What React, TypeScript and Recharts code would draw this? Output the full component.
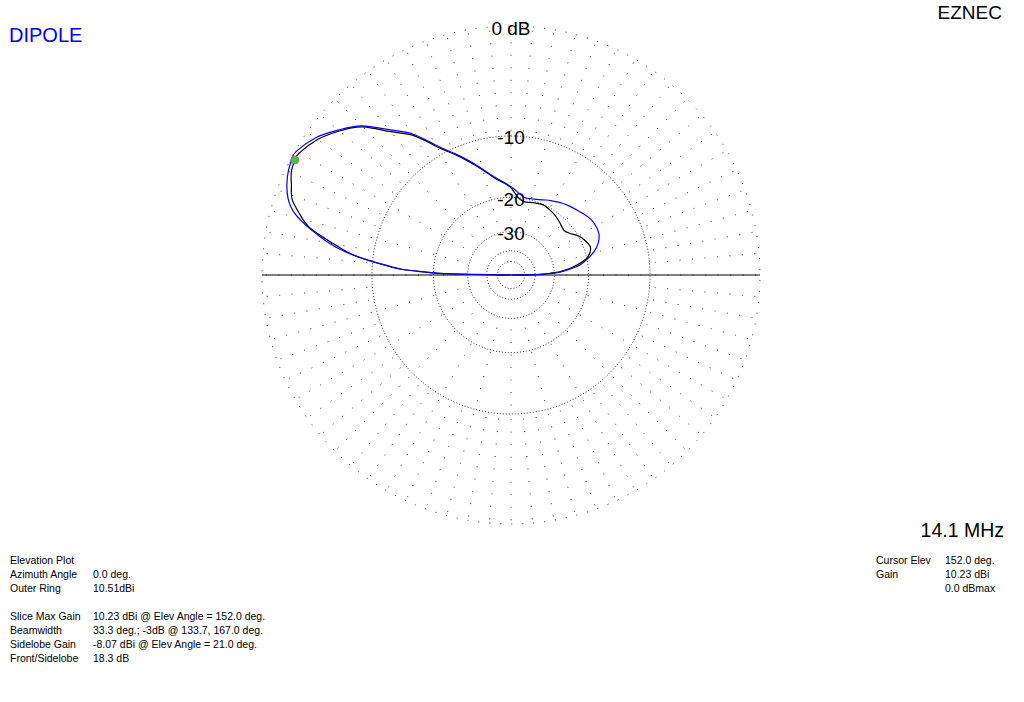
import { ScatterChart, Scatter, XAxis, YAxis, ReferenceLine } from 'recharts'

// outer ring of the plot, dBi
const OUTER_RING_DBI = 10.51

// elevation angle (deg) of each sample
const elevAngles = [
  0, 1, 2, 3, 5, 8, 12, 16, 20, 25, 30, 35, 40, 45, 50, 55, 60, 65, 70, 75, 80, 85, 90, 95, 100,
  105, 110, 115, 120, 125, 130, 135, 140, 145, 150, 152, 155, 158, 161, 164, 167, 170, 172, 174,
  176, 177, 178, 179, 180,
]

// main trace (black), dBi
const traceGain = [
  -99, -28, -23, -19.3, -15.8, -12.6, -9.7, -8.5, -8.1, -8.6, -9.4, -10.7, -11.45, -11.1, -10.6,
  -10.15, -9.85, -9.6, -9.8, -10.05, -10.2, -9.4, -7.5, -6.4, -5.3, -3.7, -2.0, -0.25, 1.6, 4.0,
  5.6, 7.55, 8.7, 9.6, 10.18, 10.23, 10.05, 9.65, 9.25, 8.35, 7.2, 4.95, 3.5, 1.2, -1.9, -3.6,
  -7.6, -14, -99,
]

// comparison trace (blue), dBi
const compareGain = [
  -99, -29, -22, -18, -15.2, -11.6, -9.3, -7.6, -6.45, -5.65, -5.5, -5.6, -6.05, -6.5, -6.9,
  -7.35, -7.9, -8.4, -8.95, -9.2, -9.25, -8.4, -7.3, -6.3, -5.15, -3.6, -1.85, -0.1, 1.8, 4.2,
  5.85, 7.67, 8.8, 9.8, 10.42, 10.45, 10.28, 10.0, 9.58, 8.8, 7.3, 5.4, 3.7, 1.3, -1.8, -3.5,
  -7.8, -14.5, -99,
]

// grid rings, dB below outer ring
const ringLevels = [-10, -20, -30, -40, -50]
const labelLevels = [0, -10, -20, -30]
const labelTexts = ['0 dB', '-10', '-20', '-30']

const cursorElev = 152
const cursorGain = 10.23

const leftLabels = ['Elevation Plot', 'Azimuth Angle', 'Outer Ring', '', 'Slice Max Gain', 'Beamwidth', 'Sidelobe Gain', 'Front/Sidelobe']
const leftValues = ['', '0.0 deg.', '10.51dBi', '', '10.23 dBi @ Elev Angle = 152.0 deg.', '33.3 deg.; -3dB @ 133.7, 167.0 deg.', '-8.07 dBi @ Elev Angle = 21.0 deg.', '18.3 dB']
const rightLabels = ['Cursor Elev', 'Gain', '']
const rightValues = ['152.0 deg.', '10.23 dBi', '0.0 dBmax']

const FONT = '"Liberation Sans", Arial, sans-serif'

// ARRL log scale: every 2 dB down multiplies the radius by 0.89
function arrl(dbDown: number) {
  return Math.pow(0.89, -dbDown / 2)
}

function polar(deg: number, r: number) {
  const a = (deg * Math.PI) / 180
  return { x: r * Math.cos(a), y: r * Math.sin(a) }
}

function traceData(gains: number[]) {
  return elevAngles.map((ang, i) => polar(ang, arrl(gains[i] - OUTER_RING_DBI)))
}

function ringData(level: number) {
  const r = arrl(level)
  const pts = []
  for (let a = 0; a <= 360; a += 2) pts.push(polar(90 - a, r))
  return pts
}

const labelData = labelLevels.map((lv, i) => ({ ...polar(90, arrl(lv)), label: labelTexts[i] }))

// outer spokes every 5 deg down to the -10 ring, inner spokes every 15 deg down to the -30 ring
const outerSpokes: number[] = []
for (let a = 0; a < 360; a += 5) outerSpokes.push(a)
const innerSpokes: number[] = []
for (let a = 0; a < 360; a += 15) innerSpokes.push(a)

const noShape = () => <g />

// eslint-disable-next-line @typescript-eslint/no-explicit-any
function RingLabel(props: any) {
  const { cx, cy, payload } = props
  return (
    <text x={cx} y={cy + 2} textAnchor="middle" dominantBaseline="central" fontSize={19} fontFamily={FONT} fill="#000">
      {payload.label}
    </text>
  )
}

// eslint-disable-next-line @typescript-eslint/no-explicit-any
function CursorDot(props: any) {
  const { cx, cy } = props
  return <circle cx={cx} cy={cy} r={4} fill="#22dd22" stroke="#d040d0" strokeWidth={1} />
}

export default function App() {
  const small = { position: 'absolute' as const, fontSize: 10.5, lineHeight: '14px', fontFamily: FONT, color: '#000', whiteSpace: 'nowrap' as const }
  const r10 = arrl(-10)
  const r30 = arrl(-30)
  return (
    <div style={{ position: 'absolute', left: 0, top: 0, width: 1024, height: 702, background: '#fff', fontFamily: FONT }}>
      <div style={{ position: 'absolute', left: 9, top: 24.5, fontSize: 20, lineHeight: 1, color: '#0000ff' }}>DIPOLE</div>
      <div style={{ position: 'absolute', right: 22, top: 3, fontSize: 19, lineHeight: 1, color: '#000' }}>EZNEC</div>
      <div style={{ position: 'absolute', right: 20, top: 520.5, fontSize: 19.5, lineHeight: 1, color: '#000' }}>14.1 MHz</div>

      <div style={{ position: 'absolute', left: 251, top: 15 }}>
        <ScatterChart width={520} height={520} margin={{ top: 11, right: 11, bottom: 11, left: 11 }}>
          <XAxis type="number" dataKey="x" domain={[-1, 1]} hide />
          <YAxis type="number" dataKey="y" domain={[-1, 1]} hide />
          {outerSpokes.map((a) => {
            const p = polar(a, 1)
            const q = polar(a, r10)
            return (
              <ReferenceLine
                key={'o' + a}
                segment={[{ x: p.x, y: p.y }, { x: q.x, y: q.y }]}
                stroke="#333"
                strokeDasharray="1 11.5"
                strokeDashoffset={8.7}
                ifOverflow="visible"
              />
            )
          })}
          {innerSpokes.map((a) => {
            const p = polar(a, r10)
            const q = polar(a, r30)
            return (
              <ReferenceLine
                key={'i' + a}
                segment={[{ x: p.x, y: p.y }, { x: q.x, y: q.y }]}
                stroke="#333"
                strokeDasharray="1 11.5"
                strokeDashoffset={4}
                ifOverflow="visible"
              />
            )
          })}
          <Scatter data={ringData(0)} shape={noShape} line={{ stroke: '#333', strokeWidth: 1, strokeDasharray: '1 10' }} isAnimationActive={false} />
          {ringLevels.map((lv) => (
            <Scatter key={lv} data={ringData(lv)} shape={noShape} line={{ stroke: '#333', strokeWidth: 1, strokeDasharray: '1 2' }} isAnimationActive={false} />
          ))}
          <ReferenceLine y={0} stroke="#000" strokeWidth={1} ifOverflow="visible" />
          <Scatter data={labelData} shape={RingLabel} isAnimationActive={false} />
          <Scatter data={traceData(traceGain)} shape={noShape} lineJointType="natural" line={{ stroke: '#000', strokeWidth: 1.2 }} isAnimationActive={false} />
          <Scatter data={traceData(compareGain)} shape={noShape} lineJointType="natural" line={{ stroke: '#0000ff', strokeWidth: 1.2 }} isAnimationActive={false} />
          <Scatter data={[polar(cursorElev, arrl(cursorGain - OUTER_RING_DBI))]} shape={CursorDot} isAnimationActive={false} />
        </ScatterChart>
      </div>

      {leftLabels.map((t, i) => (
        <div key={'l' + i} style={{ ...small, left: 10, top: 553 + i * 14 }}>{t}</div>
      ))}
      {leftValues.map((t, i) => (
        <div key={'v' + i} style={{ ...small, left: 93, top: 553 + i * 14 }}>{t}</div>
      ))}
      {rightLabels.map((t, i) => (
        <div key={'r' + i} style={{ ...small, left: 876, top: 553 + i * 14 }}>{t}</div>
      ))}
      {rightValues.map((t, i) => (
        <div key={'w' + i} style={{ ...small, left: 945, top: 553 + i * 14 }}>{t}</div>
      ))}
    </div>
  )
}
